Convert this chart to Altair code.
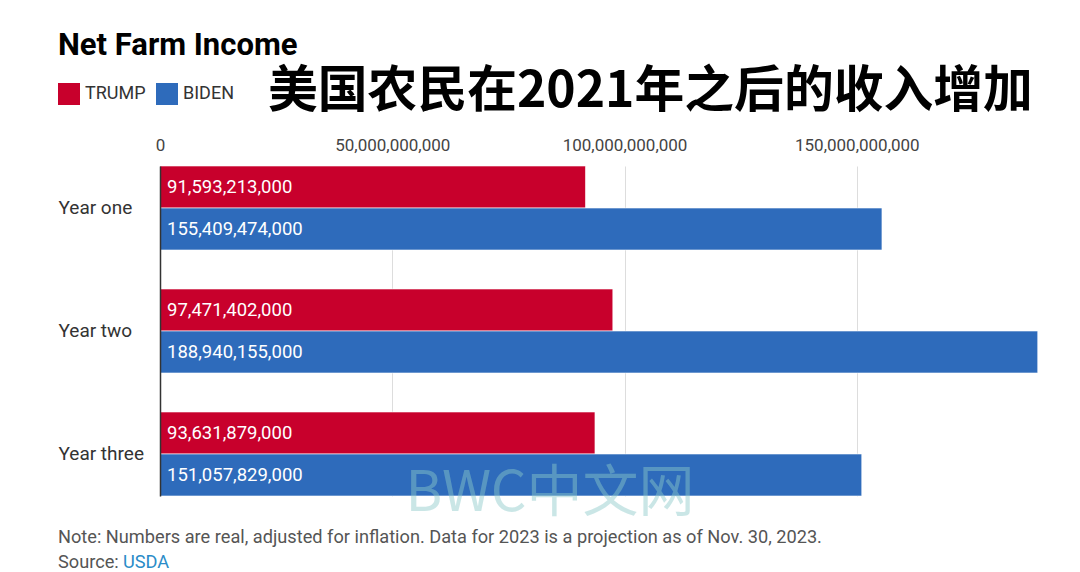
import altair as alt
import pandas as pd

years = ["Year one", "Year two", "Year three"]
candidates = ["TRUMP", "BIDEN"]
trump_values = [91593213000, 97471402000, 93631879000]
biden_values = [155409474000, 188940155000, 151057829000]
colors = ["#C8002C", "#2E6BBB"]
x_ticks = [0, 50000000000, 100000000000, 150000000000]

title_text = "Net Farm Income"
cn_title = "美国农民在2021年之后的收入增加"
note_text = "Note: Numbers are real, adjusted for inflation. Data for 2023 is a projection as of Nov. 30, 2023."
source_label = "Source:"
source_link = "USDA"
watermark = "BWC中文网"

rows = []
for i, y in enumerate(years):
    rows.append({"year": y, "candidate": "TRUMP", "value": trump_values[i]})
    rows.append({"year": y, "candidate": "BIDEN", "value": biden_values[i]})
df = pd.DataFrame(rows)

FONT = "Roboto"

y_enc = alt.Y("year:N", sort=years,
              scale=alt.Scale(paddingInner=0.317, paddingOuter=0),
              axis=alt.Axis(title=None, orient="left", ticks=False, domain=True,
                            domainColor="#333333", domainWidth=1.5, zindex=1,
                            labelAlign="left", labelPadding=102,
                            labelFontSize=19, labelColor="#333333",
                            labelFont=FONT))
yoff = alt.YOffset("candidate:N", sort=candidates, scale=alt.Scale(paddingInner=0, paddingOuter=0))

bars = alt.Chart(df).mark_bar(stroke="white", strokeWidth=0.6).encode(
    x=alt.X("value:Q", scale=alt.Scale(domain=[0, 189000000000], nice=False),
            axis=alt.Axis(title=None, orient="top", values=x_ticks, format=",.0f",
                          domain=False, ticks=False, grid=True, gridColor="#dddddd",
                          labelFlush=False,
                          labelFontSize=17, labelColor="#444444", labelPadding=12,
                          labelFont=FONT)),
    y=y_enc,
    yOffset=yoff,
    color=alt.Color("candidate:N", sort=candidates,
                    scale=alt.Scale(domain=candidates, range=colors),
                    legend=alt.Legend(title=title_text, orient="none", direction="horizontal",
                                      legendX=-102, legendY=-135,
                                      titleFontSize=31, titleFont=FONT, titleFontWeight="bold",
                                      titleColor="#000000", titlePadding=21, titleLimit=600,
                                      symbolType="square", symbolSize=484,
                                      symbolStrokeWidth=0, symbolOpacity=1,
                                      labelFontSize=18, labelColor="#333333", labelFont=FONT,
                                      labelOffset=5, columnPadding=10)),
)

labels = alt.Chart(df).mark_text(align="left", baseline="middle", dx=7, color="white",
                                 fontSize=18.5, font=FONT).encode(
    x=alt.datum(0),
    y=alt.Y("year:N", sort=years),
    yOffset=alt.YOffset("candidate:N", sort=candidates),
    text=alt.Text("value:Q", format=",.0f"),
)

cn = alt.Chart(pd.DataFrame({"t": [cn_title]})).mark_text(
    align="left", baseline="middle", fontSize=49.8, font="Noto Sans CJK SC",
    fontWeight="bold", color="#000000").encode(
    x=alt.value(108), y=alt.value(-74), text="t:N")

note = alt.Chart(pd.DataFrame({"t": [note_text]})).mark_text(
    align="left", baseline="middle", fontSize=18.2, font=FONT, color="#555555").encode(
    x=alt.value(-102), y=alt.value(372), text="t:N")

src = alt.Chart(pd.DataFrame({"t": [source_label]})).mark_text(
    align="left", baseline="middle", fontSize=18.2, font=FONT, color="#555555").encode(
    x=alt.value(-102), y=alt.value(397), text="t:N")

src_link = alt.Chart(pd.DataFrame({"t": [source_link]})).mark_text(
    align="left", baseline="middle", fontSize=18.2, font=FONT, color="#2A8CC8").encode(
    x=alt.value(-37), y=alt.value(397), text="t:N")

wm = alt.Chart(pd.DataFrame({"t": [watermark]})).mark_text(
    align="center", baseline="middle", fontSize=56, font="Noto Sans CJK SC",
    fontWeight="normal", color="#8CCACA", opacity=0.45).encode(
    x=alt.value(390), y=alt.value(328), text="t:N")

chart = alt.layer(bars, labels, cn, note, src, src_link, wm).properties(
    width=878, height=330,
    autosize=alt.AutoSizeParams(type="none"),
    padding={"left": 152, "top": 158, "right": 34, "bottom": 76},
    background="white",
).configure_view(stroke=None)

chart.save("out.html", embed_options={"renderer": "svg", "actions": False})
